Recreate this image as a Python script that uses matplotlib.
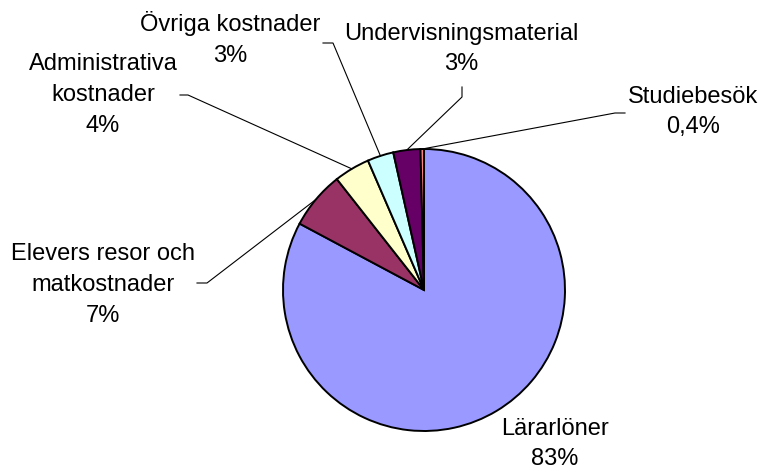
import matplotlib.pyplot as plt
import numpy as np

W, H = 760, 471

categories = ["Lärarlöner", "Elevers resor och\nmatkostnader", "Administrativa\nkostnader",
              "Övriga kostnader", "Undervisningsmaterial", "Studiebesök"]
shares = [82.8, 6.6, 4.1, 3.0, 3.1, 0.4]
pct_labels = ["83%", "7%", "4%", "3%", "3%", "0,4%"]
colors = ["#9999FF", "#993366", "#FFFFCC", "#CCFFFF", "#660066", "#FF8080"]

# label block centres and leader elbows, in pixels from top-left
label_pos = [(555, 444), (103, 285), (103, 95), (230, 39), (461, 49), (693, 112)]
elbows = [None,
          [(207, 283), (197, 283)],
          [(188, 95), (180, 95)],
          [(333, 43), (323, 43)],
          [(462, 97), (462, 87)],
          [(615, 113), (625, 113)]]

cx, cy, r = 424, 290, 141

fig = plt.figure(figsize=(W / 100, H / 100), dpi=100)
ax = fig.add_axes([0, 0, 1, 1])

wedges, _ = ax.pie(shares, colors=colors, startangle=90, counterclock=False,
                   center=(cx, H - cy), radius=r,
                   wedgeprops=dict(edgecolor="black", linewidth=1.4))

ax.set_xlim(0, W)
ax.set_ylim(0, H)
ax.set_aspect("equal")
ax.axis("off")

for w, name, pct, pos, elb in zip(wedges, categories, pct_labels, label_pos, elbows):
    ax.text(pos[0], H - pos[1], f"{name}\n{pct}", ha="center", va="center",
            fontsize=17, family="Liberation Sans", linespacing=1.52)
    if elb is None:
        continue
    mid = np.deg2rad((w.theta1 + w.theta2) / 2)
    x0 = cx + r * np.cos(mid)
    y0 = (H - cy) + r * np.sin(mid)
    xs = [x0] + [p[0] for p in elb]
    ys = [y0] + [H - p[1] for p in elb]
    ax.plot(xs, ys, color="black", linewidth=0.8)

fig.savefig("out.png", dpi=100)
